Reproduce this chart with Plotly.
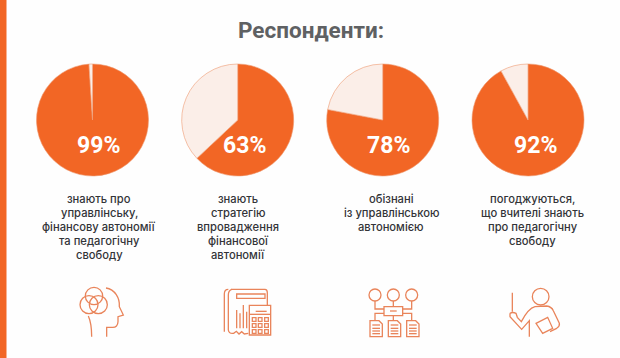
import plotly.graph_objects as go

W, H = 620, 358
title = "Респонденти:"
percents = [99, 63, 78, 92]
percent_labels = ["99%", "63%", "78%", "92%"]
captions = [
    ["знають про", "управлінську,", "фінансову автономії", "та педагогічну", "свободу"],
    ["знають", "стратегію", "впровадження", "фінансової", "автономії"],
    ["обізнані", "із управлінською", "автономією"],
    ["погоджуються,", "що вчителі знають", "про педагогічну", "свободу"],
]
centers_x = [92.5, 237.7, 382.7, 528]
center_y = 120
radius = 56

ORANGE = "#F26625"
LIGHT = "#FBEEE8"
ICON = "#E9845A"
fig = go.Figure()

for cx, p in zip(centers_x, percents):
    fig.add_trace(go.Pie(
        values=[p, 100 - p], sort=False, direction="clockwise", rotation=0,
        textinfo="none", hoverinfo="skip", showlegend=False,
        marker=dict(colors=[ORANGE, LIGHT], line=dict(color="#EE9A72", width=0.6)),
        domain=dict(x=[(cx - radius) / W, (cx + radius) / W],
                    y=[1 - (center_y + radius) / H, 1 - (center_y - radius) / H]),
    ))

ann = []
ann.append(dict(x=311, y=30, text=f"<b>{title}</b>",
                font=dict(family="Roboto", size=22.5, color="#5F6163")))
label_x = [98, 244.7, 388, 535.7]
for x, lab in zip(label_x, percent_labels):
    ann.append(dict(x=x, y=145.5, text=lab,
                    font=dict(family="Roboto", size=23, weight=700, color="#FFFFFF")))
caption_x = [99, 238, 391, 532.5]
for x, lines in zip(caption_x, captions):
    for i, line in enumerate(lines):
        ann.append(dict(x=x, y=198.5 + 14 * i, text=line,
                        font=dict(family="Inter", size=11.2, weight=500, color="#333438")))
for a in ann:
    a.update(xref="x", yref="y", showarrow=False, xanchor="center", yanchor="middle")

shapes = [dict(type="rect", xref="x", yref="y", x0=0, x1=6.5, y0=0, y1=H,
               fillcolor=ORANGE, line_width=0, layer="below")]


def line():
    return dict(color=ICON, width=1.3)


def path(ox, oy, d):
    out, isx = [], True
    for tok in d.split():
        try:
            v = float(tok)
            out.append(f"{ox + v / 3:.2f}" if isx else f"{oy + v / 3:.2f}")
            isx = not isx
        except ValueError:
            out.append(tok)
    shapes.append(dict(type="path", xref="x", yref="y", path=" ".join(out), line=line()))


def circle(ox, oy, cx, cy, r):
    shapes.append(dict(type="circle", xref="x", yref="y",
                       x0=ox + (cx - r) / 3, x1=ox + (cx + r) / 3,
                       y0=oy + (cy - r) / 3, y1=oy + (cy + r) / 3, line=line()))


def rect(ox, oy, x0, y0, x1, y1):
    shapes.append(dict(type="rect", xref="x", yref="y",
                       x0=ox + x0 / 3, x1=ox + x1 / 3,
                       y0=oy + y0 / 3, y1=oy + y1 / 3, line=line()))


# head icon
o = (70, 280)
circle(*o, 72, 48, 26)
circle(*o, 57, 74, 27)
circle(*o, 85, 74, 27)
path(*o, "M 108 24 C 135 28 150 55 148 80 L 160 105 L 144 110 L 144 125 Q 143 142 128 142 L 110 142 L 110 170")
path(*o, "M 55 108 Q 65 130 65 170")

# report and calculator icon
o = (215, 280)
path(*o, "M 48 28 L 150 28 Q 157 28 157 38 L 157 75")
path(*o, "M 40 28 Q 28 28 28 42 L 28 155")
path(*o, "M 50 28 Q 40 32 40 45 L 40 150 Q 42 162 56 160 L 64 154 L 72 162 L 80 155 L 88 162 L 100 160")
rect(*o, 65, 42, 150, 55)
for x, top in [(65, 90), (75, 100), (85, 75), (95, 95)]:
    path(*o, f"M {x} {top} L {x} 145")
rect(*o, 103, 76, 167, 165)
path(*o, "M 103 103 L 167 103")
path(*o, "M 122 94 L 155 94")
for x0 in (112, 130, 149):
    for y0 in (113, 131, 149):
        rect(*o, x0, y0, x0 + 11, y0 + 11)

# network icon
o = (360, 280)
for cx in (45, 100, 155):
    circle(*o, cx, 45, 18)
rect(*o, 72, 80, 128, 107)
path(*o, "M 90 93 L 110 93")
path(*o, "M 45 63 L 45 87 L 72 87")
path(*o, "M 100 63 L 100 80")
path(*o, "M 155 63 L 155 87 L 128 87")
path(*o, "M 72 100 L 45 100 L 45 122")
path(*o, "M 100 107 L 100 122")
path(*o, "M 128 100 L 155 100 L 155 122")
for x0 in (30, 85, 140):
    path(*o, f"M {x0} 122 L {x0 + 27} 122 L {x0 + 37} 132 L {x0 + 37} 170 L {x0} 170 Z")
    for y in (135, 145, 153, 161):
        path(*o, f"M {x0 + 7} {y} L {x0 + 30} {y}")

# teacher icon
o = (500, 280)
circle(*o, 122, 50, 25)
path(*o, "M 37 38 L 37 95")
path(*o, "M 30 100 Q 38 95 48 100 L 52 112 L 64 125 Q 85 85 105 80 L 140 78 Q 155 80 160 92 L 178 130 Q 180 138 170 145 L 150 155")
path(*o, "M 30 100 L 30 110 L 65 148 L 88 122 L 88 170")
path(*o, "M 108 130 L 143 112 L 158 145 L 128 160 Z")

fig.update_layout(
    width=W, height=H, margin=dict(l=0, r=0, t=0, b=0),
    paper_bgcolor="#FEFEFE", plot_bgcolor="rgba(0,0,0,0)",
    xaxis=dict(range=[0, W], visible=False, fixedrange=True),
    yaxis=dict(range=[H, 0], visible=False, fixedrange=True),
    annotations=ann, shapes=shapes, showlegend=False,
)
fig.write_html("out.html", config=dict(displayModeBar=False),
               post_script="document.body.style.margin='0';document.documentElement.style.overflow='hidden';")
